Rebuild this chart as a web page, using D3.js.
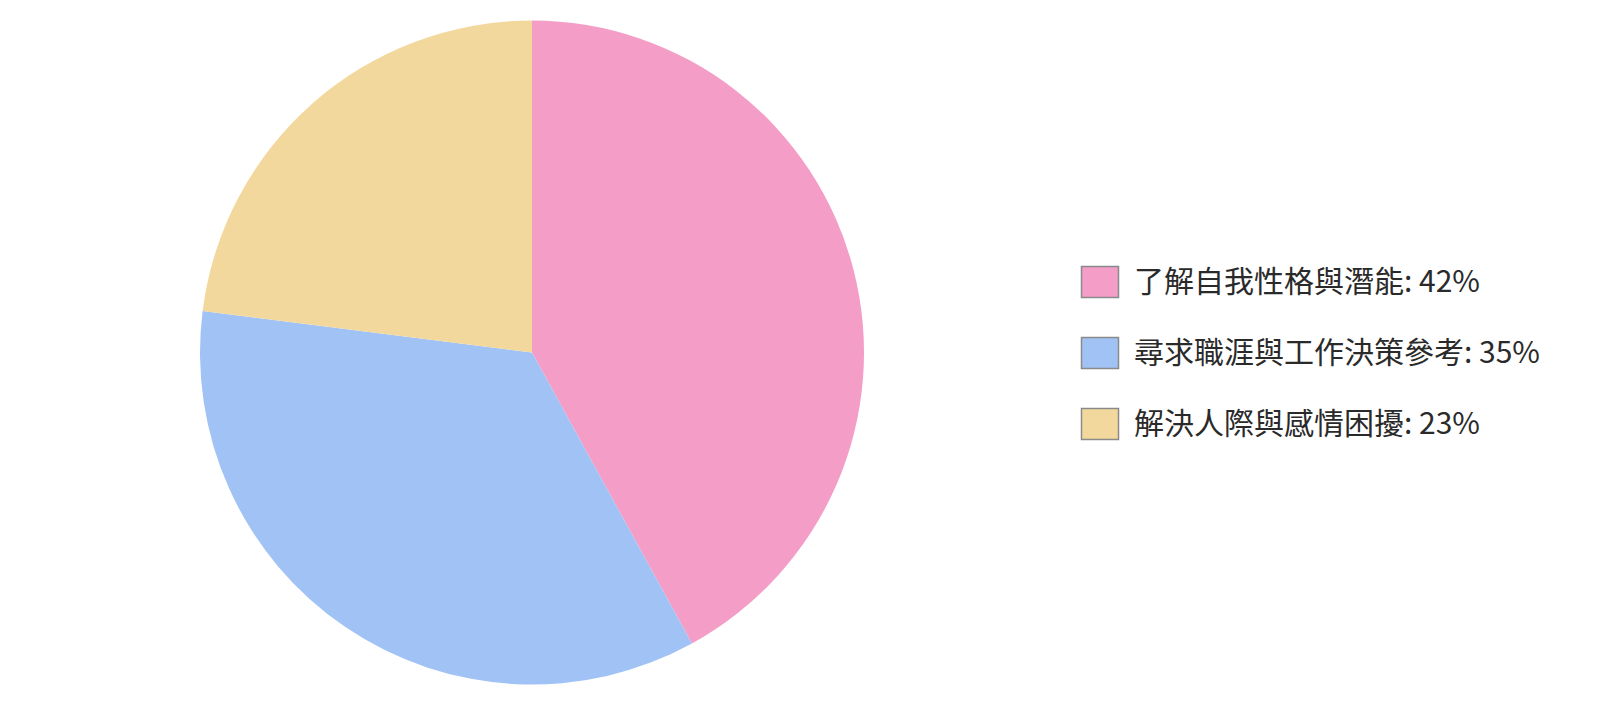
<!DOCTYPE html>
<html><head><meta charset="utf-8">
<script src="https://cdn.jsdelivr.net/npm/d3@7/dist/d3.min.js"></script>
<style>html,body{margin:0;padding:0;background:#fff;}svg{display:block;}</style>
</head><body>
<svg id="chart" width="1600" height="705"></svg>
<script>
const categories = ["了解自我性格與潛能", "尋求職涯與工作決策參考", "解決人際與感情困擾"];
const values = [42, 35, 23];
const colors = ["#F39DC7", "#A0C2F5", "#F3D89E"];

const svg = d3.select("#chart");
const cx = 532, cy = 352.5, r = 332;
const pie = d3.pie().sort(null).value(d => d)(values);
const arc = d3.arc().innerRadius(0).outerRadius(r);
const g = svg.append("g").attr("transform", `translate(${cx},${cy})`);
g.selectAll("path").data(pie).join("path")
  .attr("d", arc)
  .attr("fill", (d, i) => colors[i]);

const legend = svg.append("g").attr("transform", "translate(1081,266)");
const items = legend.selectAll("g").data(categories).join("g")
  .attr("transform", (d, i) => `translate(0,${i * 71})`);
items.append("rect").attr("x", 0.5).attr("y", 0.5).attr("width", 37).attr("height", 31)
  .attr("fill", (d, i) => colors[i]).attr("stroke", "#8a8a8a").attr("stroke-width", 1.5);
items.append("text").attr("x", 53).attr("y", 15).attr("dy", "0.35em")
  .attr("font-family", "'Noto Sans CJK TC', 'Noto Sans', sans-serif")
  .attr("font-size", 30).attr("fill", "#2a2a2a")
  .text((d, i) => `${d}: ${values[i]}%`);
</script>
</body></html>
